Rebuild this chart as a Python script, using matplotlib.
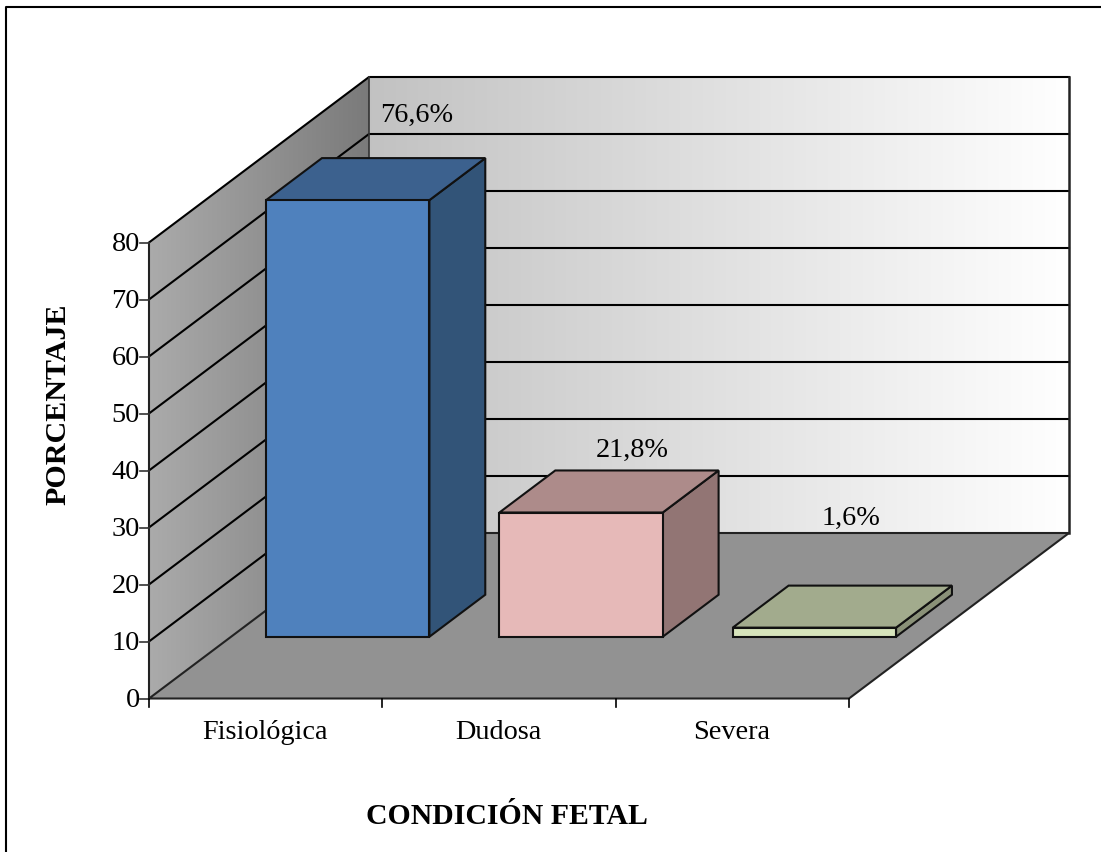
import matplotlib
matplotlib.use('Agg')
import matplotlib.pyplot as plt
from matplotlib.patches import Polygon
import numpy as np

categories = ['Fisiológica', 'Dudosa', 'Severa']
values = [76.6, 21.8, 1.6]
yticks = [0, 10, 20, 30, 40, 50, 60, 70, 80]
front_colors = ['#4f81bd', '#e6b9b8', '#d7e4bc']
top_colors = ['#3c618e', '#ad8b8a', '#a2ab8d']
side_colors = ['#325478', '#927574', '#8a9178']
# where each value label sits, in pixels
label_pos = [(417, 113.5), (632, 448.5), (851, 516.5)]

plt.rcParams['font.family'] = ['Liberation Serif', 'DejaVu Serif']

# pixel layout of the fake 3d box
X0, Y0 = 149, 698
CAT_W = 700 / 3
UNIT = 5.7
DX, DY = 220, 165.5
BAR_W = 0.7
D_FRONT, D_BACK = 0.373, 0.627


def pt(c, v, d):
    return (X0 + CAT_W * c + DX * d, Y0 - UNIT * v - DY * d)


fig = plt.figure(figsize=(11.01, 8.53), dpi=100)
ax = fig.add_axes([0, 0, 1, 1])
ax.axis('off')

# outer frame, only top and left
ax.plot([6, 6, 1101], [853, 6, 6], color='black', lw=1.5, zorder=1)


def grad_poly(corners, c_left, c_right, z):
    xs = [p[0] for p in corners]
    ys = [p[1] for p in corners]
    g = np.linspace(0, 1, 256).reshape(1, -1, 1)
    img = np.array(c_left).reshape(1, 1, 3) * (1 - g) + np.array(c_right).reshape(1, 1, 3) * g
    im = ax.imshow(img, extent=[min(xs), max(xs), max(ys), min(ys)], aspect='auto', zorder=z)
    clip = Polygon(corners, closed=True, transform=ax.transData, fc='none', ec='none')
    ax.add_patch(clip)
    im.set_clip_path(clip)


# walls
top = yticks[-1]
wall_side = [pt(0, 0, 0), pt(0, top, 0), pt(0, top, 1), pt(0, 0, 1)]
wall_back = [pt(0, 0, 1), pt(0, top, 1), pt(3, top, 1), pt(3, 0, 1)]
grad_poly(wall_side, (0.67, 0.67, 0.67), (0.48, 0.48, 0.48), 2)
grad_poly(wall_back, (0.76, 0.76, 0.76), (1.0, 1.0, 1.0), 2)

# limits go after imshow, which resets them
ax.set_xlim(0, 1101)
ax.set_ylim(851.5, -1.5)

# floor
floor = [pt(0, 0, 0), pt(3, 0, 0), pt(3, 0, 1), pt(0, 0, 1)]
ax.add_patch(Polygon(floor, closed=True, fc='#929292', ec='#222222', lw=1.5, zorder=3))

# gridlines along side and back walls
for v in yticks[1:]:
    a, b, c = pt(0, v, 0), pt(0, v, 1), pt(3, v, 1)
    ax.plot([a[0], b[0], c[0]], [a[1], b[1], c[1]], color='black', lw=1.5, zorder=3,
            solid_joinstyle='miter')
a, b, c = pt(0, 0, 0), pt(0, top, 0), pt(0, 0, 1)
ax.plot([a[0], b[0]], [a[1], b[1]], color='#222222', lw=1.5, zorder=3)
d = pt(0, top, 1)
ax.plot([c[0], d[0]], [c[1], d[1]], color='#333333', lw=1.2, zorder=3)
e, f = pt(3, 0, 1), pt(3, top, 1)
ax.plot([e[0], f[0]], [e[1], f[1]], color='#222222', lw=1.8, zorder=3)

# ticks and tick labels
for v in yticks:
    x, y = pt(0, v, 0)
    ax.plot([x - 9, x], [y, y], color='#333333', lw=1.2, zorder=3)
    ax.text(x - 9, y + 1.5, str(v), ha='right', va='center', fontsize=20.3, color='black')
for i in range(len(categories) + 1):
    x, y = pt(i, 0, 0)
    ax.plot([x, x], [y, y + 8], color='black', lw=1.2, zorder=3)
for i, name in enumerate(categories):
    x, y = pt(i + 0.5, 0, 0)
    ax.text(x - 0.5, 731.5, name, ha='center', va='center', fontsize=20.3, color='black')

# bars
for i, v in enumerate(values):
    l, r = i + 0.5 - BAR_W / 2, i + 0.5 + BAR_W / 2
    z = 5 + i
    side = [pt(r, 0, D_FRONT), pt(r, v, D_FRONT), pt(r, v, D_BACK), pt(r, 0, D_BACK)]
    lid = [pt(l, v, D_FRONT), pt(r, v, D_FRONT), pt(r, v, D_BACK), pt(l, v, D_BACK)]
    front = [pt(l, 0, D_FRONT), pt(r, 0, D_FRONT), pt(r, v, D_FRONT), pt(l, v, D_FRONT)]
    ax.add_patch(Polygon(side, closed=True, fc=side_colors[i], ec='#111111', lw=1.5, zorder=z))
    ax.add_patch(Polygon(lid, closed=True, fc=top_colors[i], ec='#111111', lw=1.5, zorder=z))
    ax.add_patch(Polygon(front, closed=True, fc=front_colors[i], ec='#111111', lw=1.5, zorder=z))
    lx, ly = label_pos[i]
    ax.text(lx, ly, f'{v:.1f}%'.replace('.', ','), ha='center', va='center',
            fontsize=20.3, color='black', zorder=10)

# axis titles
ax.text(58, 402.5, 'PORCENTAJE', rotation=90, ha='center', va='center',
        fontsize=21.6, fontweight='bold', color='black')
ax.text(506.5, 815.5, 'CONDICIÓN FETAL', ha='center', va='center',
        fontsize=21.4, fontweight='bold', color='black')

fig.savefig('out.png', dpi=100, facecolor='white')
